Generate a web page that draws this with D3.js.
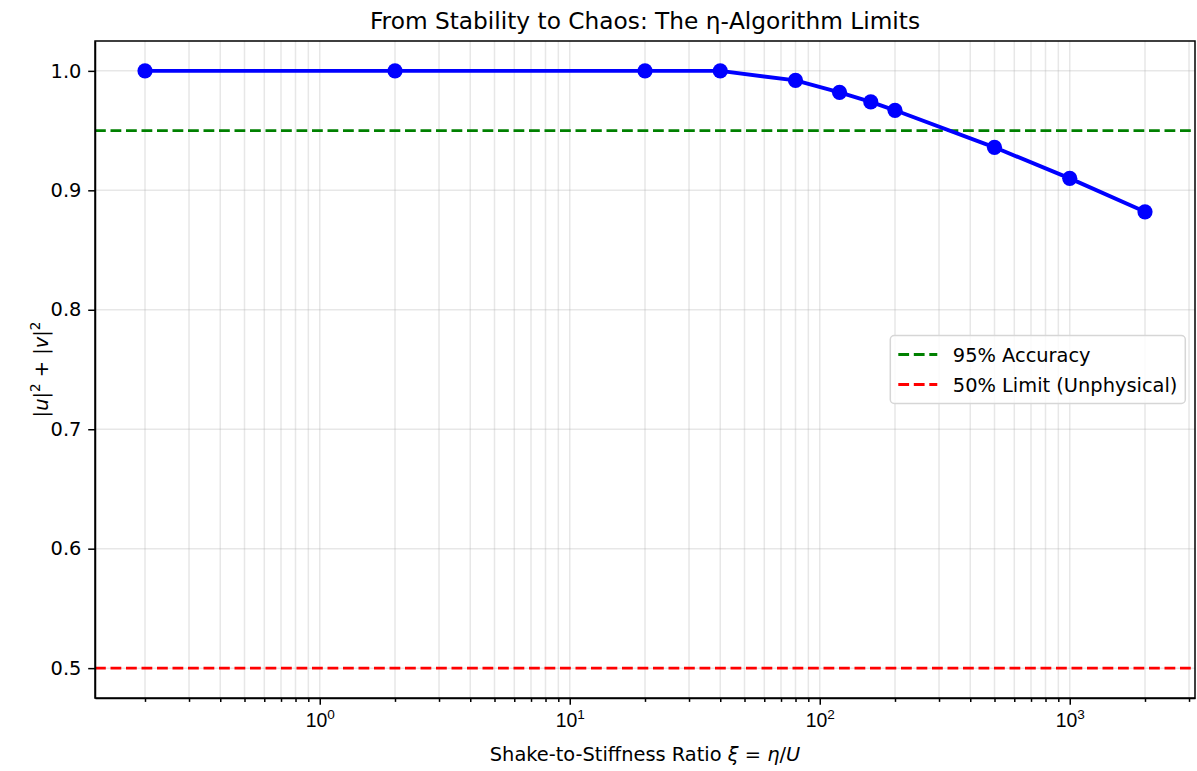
<!DOCTYPE html>
<html>
<head>
<meta charset="utf-8">
<script src="https://cdn.jsdelivr.net/npm/d3@7"></script>
<style>
  body { margin: 0; background: #fff; }
  svg { font-family: "DejaVu Sans", sans-serif; }
</style>
</head>
<body>
<svg width="1197" height="771"></svg>
<script>
// values
var ratios = [0.2, 2, 20, 40, 80, 120, 160, 200, 500, 1000, 2000];
var norms = [1.0, 1.0, 1.0, 1.0, 0.992, 0.982, 0.974, 0.967, 0.936, 0.910, 0.882];
var refValues = [0.95, 0.5];
var refLabels = ["95% Accuracy", "50% Limit (Unphysical)"];
var refColors = ["#008000", "#ff0000"];
var yTicks = [0.5, 0.6, 0.7, 0.8, 0.9, 1.0];
var xMajor = [1, 10, 100, 1000];
var xMajorExp = ["0", "1", "2", "3"];

var svg = d3.select("svg"),
    width = +svg.attr("width"),
    height = +svg.attr("height"),
    margin = {top: 41, right: 2, bottom: 73, left: 95};

var fs = 19.4;

var x = d3.scaleLog()
    .domain([0.2 / Math.pow(10, 0.2), 2000 * Math.pow(10, 0.2)])
    .range([margin.left, width - margin.right]);

var y = d3.scaleLinear()
    .domain([0.475, 1.025])
    .range([height - margin.bottom, margin.top]);

// minor tick values inside the domain
var xMinor = [];
for (var e = -1; e <= 3; e++) {
  for (var k = 2; k <= 9; k++) {
    var v = k * Math.pow(10, e);
    if (v > x.domain()[0] && v < x.domain()[1]) xMinor.push(v);
  }
}

// grid
var grid = svg.append("g").attr("stroke", "#b0b0b0").attr("stroke-opacity", 0.3).attr("stroke-width", 1.5);
grid.selectAll(".gx")
    .data(xMajor.concat(xMinor))
    .enter().append("line")
    .attr("x1", function(d) { return x(d); })
    .attr("x2", function(d) { return x(d); })
    .attr("y1", margin.top)
    .attr("y2", height - margin.bottom);
grid.selectAll(".gy")
    .data(yTicks)
    .enter().append("line")
    .attr("x1", margin.left)
    .attr("x2", width - margin.right)
    .attr("y1", function(d) { return y(d); })
    .attr("y2", function(d) { return y(d); });

// reference lines
svg.append("g").selectAll("line")
    .data(refValues)
    .enter().append("line")
    .attr("x1", margin.left)
    .attr("x2", width - margin.right)
    .attr("y1", function(d) { return y(d); })
    .attr("y2", function(d) { return y(d); })
    .attr("stroke", function(d, i) { return refColors[i]; })
    .attr("stroke-width", 2.9)
    .attr("stroke-dasharray", "10.8,4.7");

// data line + markers
var pts = ratios.map(function(r, i) { return [r, norms[i]]; });

svg.append("path")
    .datum(pts)
    .attr("fill", "none")
    .attr("stroke", "#0000ff")
    .attr("stroke-width", 3.9)
    .attr("stroke-linejoin", "round")
    .attr("d", d3.line()
        .x(function(d) { return x(d[0]); })
        .y(function(d) { return y(d[1]); }));

svg.append("g").selectAll("circle")
    .data(pts)
    .enter().append("circle")
    .attr("cx", function(d) { return x(d[0]); })
    .attr("cy", function(d) { return y(d[1]); })
    .attr("r", 7.6)
    .attr("fill", "#0000ff");

// axes
var xAxis = svg.append("g")
    .attr("transform", "translate(0," + (height - margin.bottom) + ")")
    .call(d3.axisBottom(x).tickValues(xMajor).tickSize(6.8).tickSizeOuter(0).tickPadding(6.8).tickFormat(""));

svg.append("g")
    .attr("transform", "translate(0," + (height - margin.bottom) + ")")
    .call(d3.axisBottom(x).tickValues(xMinor).tickSize(3.9).tickFormat(""))
    .call(function(g) { g.select(".domain").remove(); });

xAxis.selectAll(".tick text").remove();
xAxis.selectAll(".tick").append("text")
    .attr("y", 6.8 + 6.8 + 15)
    .attr("text-anchor", "middle")
    .attr("fill", "#000")
    .attr("font-size", fs)
    .each(function(d, i) {
      var t = d3.select(this);
      t.append("tspan").text("10");
      t.append("tspan").attr("dy", -8).attr("font-size", fs * 0.7).text(xMajorExp[i]);
    });

var yAxis = svg.append("g")
    .attr("transform", "translate(" + margin.left + ",0)")
    .call(d3.axisLeft(y).tickValues(yTicks).tickSize(6.8).tickSizeOuter(0).tickPadding(6.8).tickFormat(d3.format(".1f")));
yAxis.selectAll(".tick text").attr("font-size", fs).attr("fill", "#000").attr("font-family", "DejaVu Sans");

svg.selectAll(".domain, .tick line").attr("stroke", "#000").attr("stroke-width", 1.5);

// top and right spines
svg.append("rect")
    .attr("x", margin.left)
    .attr("y", margin.top)
    .attr("width", width - margin.right - margin.left)
    .attr("height", height - margin.bottom - margin.top)
    .attr("fill", "none")
    .attr("stroke", "#000")
    .attr("stroke-width", 1.5);

// title
svg.append("text")
    .attr("x", (margin.left + width - margin.right) / 2)
    .attr("y", 29)
    .attr("text-anchor", "middle")
    .attr("font-size", fs * 1.2)
    .text("From Stability to Chaos: The \u03B7-Algorithm Limits");

// x label
var xl = svg.append("text")
    .attr("x", (margin.left + width - margin.right) / 2)
    .attr("y", 761)
    .attr("text-anchor", "middle")
    .attr("font-size", fs);
xl.append("tspan").text("Shake-to-Stiffness Ratio ");
xl.append("tspan").attr("font-style", "italic").text("\u03BE");
xl.append("tspan").text(" = ");
xl.append("tspan").attr("font-style", "italic").text("\u03B7");
xl.append("tspan").text("/");
xl.append("tspan").attr("font-style", "italic").text("U");

// y label
var yl = svg.append("text")
    .attr("transform", "translate(48," + ((margin.top + height - margin.bottom) / 2) + ") rotate(-90)")
    .attr("text-anchor", "middle")
    .attr("font-size", fs);
yl.append("tspan").text("|");
yl.append("tspan").attr("font-style", "italic").text("u");
yl.append("tspan").text("|");
yl.append("tspan").attr("dy", -8).attr("font-size", fs * 0.7).text("2");
yl.append("tspan").attr("dy", 8).text(" + |");
yl.append("tspan").attr("font-style", "italic").text("v");
yl.append("tspan").text("|");
yl.append("tspan").attr("dy", -8).attr("font-size", fs * 0.7).text("2");

// legend
var lgW = 295, lgH = 68;
var lgX = width - margin.right - 9.7 - lgW,
    lgY = (margin.top + height - margin.bottom) / 2 - lgH / 2;
var lg = svg.append("g").attr("transform", "translate(" + lgX + "," + lgY + ")");
lg.append("rect")
    .attr("width", lgW)
    .attr("height", lgH)
    .attr("rx", 4)
    .attr("fill", "#fff")
    .attr("fill-opacity", 0.8)
    .attr("stroke", "#d6d6d6")
    .attr("stroke-width", 1.5);
var rows = lg.selectAll(".row")
    .data(refLabels)
    .enter().append("g")
    .attr("transform", function(d, i) { return "translate(8," + (19 + i * 30) + ")"; });
rows.append("line")
    .attr("x1", 0).attr("x2", 39)
    .attr("stroke", function(d, i) { return refColors[i]; })
    .attr("stroke-width", 2.9)
    .attr("stroke-dasharray", "10.8,4.7");
rows.append("text")
    .attr("x", 54.5)
    .attr("y", 7)
    .attr("font-size", fs)
    .text(function(d) { return d; });
</script>
</body>
</html>
